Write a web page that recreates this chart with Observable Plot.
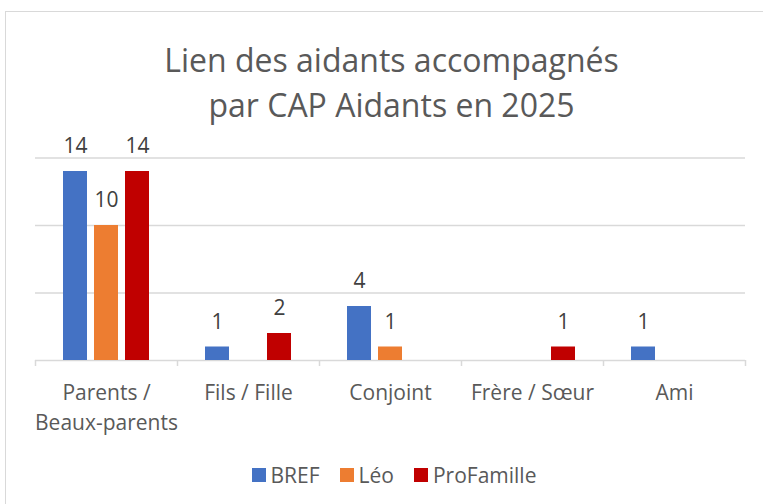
<!DOCTYPE html>
<html><head><meta charset="utf-8">
<script src="https://cdn.jsdelivr.net/npm/d3@7"></script>
<script src="https://cdn.jsdelivr.net/npm/@observablehq/plot@0.6"></script>
<style>
body{margin:0;background:#fff;font-family:"Open Sans",sans-serif;}
#wrap{position:relative;width:763px;height:504px;overflow:hidden;background:#fff;}
#frame{position:absolute;left:5px;top:11px;width:800px;height:600px;border:1.5px solid #d9d9d9;box-sizing:border-box;}
#title{position:absolute;top:37px;left:0;width:783px;text-align:center;font-size:32px;line-height:45px;color:#595959;}
#chart{position:absolute;top:130px;left:0;}
#legend{position:absolute;top:461px;left:0;width:788px;height:28px;display:flex;justify-content:center;align-items:center;font-size:21px;color:#595959;}
#legend .item{display:flex;align-items:center;margin:0 10px;}
#legend .sw{width:14px;height:14px;margin-right:5px;}
</style></head>
<body><div id="wrap"><div id="frame"></div>
<div id="title">Lien des aidants accompagnés<br>par CAP Aidants en 2025</div>
<div id="chart"></div><div id="legend"></div></div>
<script>
const categories = ["Parents /\nBeaux-parents", "Fils / Fille", "Conjoint", "Frère / Sœur", "Ami"];
const series = ["BREF", "Léo", "ProFamille"];
const bref = [14, 1, 4, 0, 1];
const leo = [10, 0, 1, 0, 0];
const profamille = [14, 2, 0, 1, 0];
const colors = ["#4472C4", "#ED7D31", "#C00000"];
const yTicks = [0, 5, 10, 15];

const values = [bref, leo, profamille];
const table = [];
categories.forEach((c, i) => series.forEach((s, j) => {
  if (values[j][i] > 0) table.push({category: c, series: s, value: values[j][i]});
}));

const W = 763, mL = 35, mR = 18;
const half = (W - mL - mR) / categories.length / 2;
const grid = "#d9d9d9";

const chart = Plot.plot({
  width: W, height: 305,
  marginTop: 27.5, marginBottom: 75, marginLeft: mL, marginRight: mR,
  style: {fontFamily: "Open Sans", background: "transparent", overflow: "visible"},
  fx: {domain: categories, padding: 0, label: null},
  x: {domain: series, paddingInner: 0.215, paddingOuter: 0.88, axis: null},
  y: {domain: [0, 15], axis: null},
  color: {domain: series, range: colors},
  marks: [
    Plot.ruleY(yTicks.slice(1), {stroke: grid, strokeWidth: 1.5}),
    Plot.ruleY([0], {stroke: grid, strokeWidth: 1.5}),
    Plot.barY(table, {fx: "category", x: "series", y: "value", fill: "series"}),
    Plot.text(table, {fx: "category", x: "series", y: "value", text: d => String(d.value), dy: -25, fill: "#404040", fontSize: 21}),
    Plot.axisFx({anchor: "bottom", tickSize: 0, tickPadding: 18, fontSize: 21, fill: "#595959", lineHeight: 1.43, label: null}),
    Plot.axisFx({anchor: "bottom", tickSize: 6, tickFormat: () => "", dx: -half, stroke: grid, strokeWidth: 1.5, label: null}),
    Plot.axisFx({anchor: "bottom", ticks: [categories[categories.length - 1]], tickSize: 6, tickFormat: () => "", dx: half, stroke: grid, strokeWidth: 1.5, label: null})
  ]
});
document.getElementById("chart").appendChild(chart);

const legend = document.getElementById("legend");
series.forEach((s, i) => {
  const it = document.createElement("div"); it.className = "item";
  const sw = document.createElement("div"); sw.className = "sw"; sw.style.background = colors[i];
  const tx = document.createElement("span"); tx.textContent = s;
  it.appendChild(sw); it.appendChild(tx); legend.appendChild(it);
});
</script></body></html>
